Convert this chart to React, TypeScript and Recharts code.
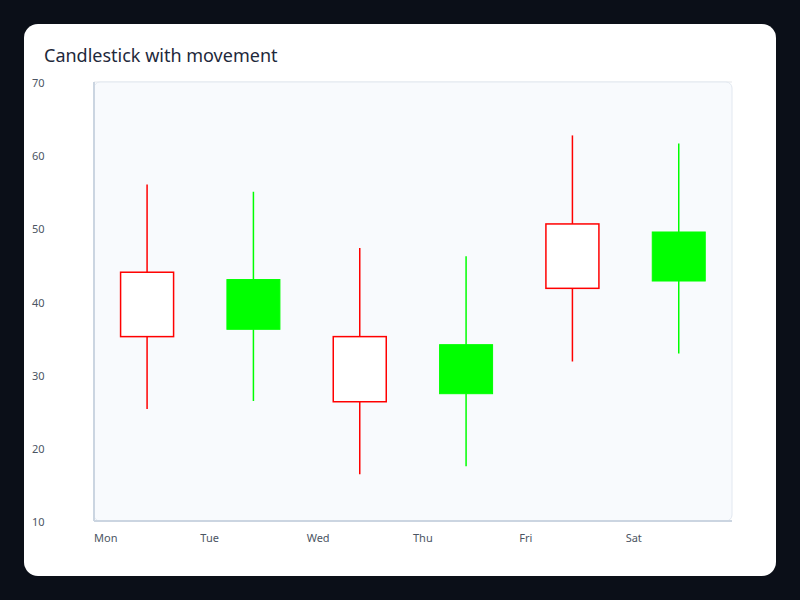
import React from "react";
import { Bar, CartesianGrid, ComposedChart, ReferenceArea, XAxis, YAxis } from "recharts";

const days = ["Mon", "Tue", "Wed", "Thu", "Fri", "Sat"];
const openValues = [44, 36.2, 35.2, 27.4, 50.6, 42.8];
const closeValues = [35.2, 43, 26.3, 34.1, 41.8, 49.5];
const highValues = [56, 55, 47.3, 46.2, 62.7, 61.6];
const lowValues = [25.3, 26.4, 16.4, 17.5, 31.8, 32.9];
const yTicks = [10, 20, 30, 40, 50, 60, 70];

const UP = "#00ff00";
const DOWN = "#ff0000";
const FONT = "'Noto Sans', 'Open Sans', sans-serif";

const data = days.map((day, i) => ({
  day,
  open: openValues[i],
  close: closeValues[i],
  high: highValues[i],
  low: lowValues[i],
}));

// draws wick + body from the [low, high] bar the library gives us
const Candle = (props: any) => {
  const { x, y, width, height, payload } = props;
  if (!payload || height == null) return null;
  const { open, close, high, low } = payload;
  const perUnit = height / (high - low);
  const cx = x + width / 2;
  const bodyTop = y + (high - Math.max(open, close)) * perUnit;
  const bodyBottom = y + (high - Math.min(open, close)) * perUnit;
  const up = close >= open;
  const color = up ? UP : DOWN;
  return (
    <g>
      <line x1={cx} x2={cx} y1={y} y2={bodyTop} stroke={color} strokeWidth={1.5} />
      <line x1={cx} x2={cx} y1={bodyBottom} y2={y + height} stroke={color} strokeWidth={1.5} />
      <rect
        x={x}
        y={bodyTop}
        width={width}
        height={bodyBottom - bodyTop}
        fill={up ? UP : "#ffffff"}
        stroke={color}
        strokeWidth={up ? 1 : 1.5}
      />
    </g>
  );
};

const PlotBackground = (props: any) => {
  const { x, y, width, height } = props;
  return (
    <rect x={x} y={y} width={width} height={height} rx={6} ry={6} fill="#f8fafd" stroke="#e2e8f0" strokeWidth={1} />
  );
};

const YTick = (props: any) => {
  const { y, payload } = props;
  return (
    <text x={8} y={y} dy={5} textAnchor="start" fontSize={11} fill="#4b5563" fontFamily={FONT}>
      {payload.value}
    </text>
  );
};

const XTick = (props: any) => {
  const { x, y, payload } = props;
  const start = x - (payload.offset || 0);
  return (
    <text x={start} y={y} dy={13} textAnchor="start" fontSize={11} fill="#4b5563" fontFamily={FONT}>
      {payload.value}
    </text>
  );
};

export default function App() {
  return (
    <div style={{ position: "absolute", left: 0, top: 0, width: 800, height: 600, background: "#0b0f18" }}>
      <div
        style={{
          position: "absolute",
          left: 24,
          top: 24,
          width: 752,
          height: 552,
          background: "#ffffff",
          borderRadius: 14,
        }}
      >
        <div
          style={{
            position: "absolute",
            left: 20,
            top: 22,
            fontFamily: FONT,
            fontSize: 18,
            lineHeight: "18px",
            color: "#1e293b",
          }}
        >
          Candlestick with movement
        </div>
        <div style={{ position: "absolute", left: 0, top: 48 }}>
          <ComposedChart
            width={752}
            height={500}
            data={data}
            margin={{ top: 10, right: 44, left: 0, bottom: 0 }}
            barCategoryGap="25%"
          >
            <ReferenceArea y1={10} y2={70} shape={<PlotBackground />} ifOverflow="visible" />
            <CartesianGrid vertical={false} stroke="#e5e7eb" />
            <XAxis
              dataKey="day"
              height={51}
              tickLine={false}
              axisLine={{ stroke: "#cbd5e1", strokeWidth: 2 }}
              tick={<XTick />}
              interval={0}
            />
            <YAxis
              width={70}
              domain={[10, 70]}
              ticks={yTicks}
              tickLine={false}
              axisLine={{ stroke: "#cbd5e1", strokeWidth: 2 }}
              tick={<YTick />}
              allowDataOverflow
            />
            <Bar dataKey={(d: any) => [d.low, d.high]} shape={<Candle />} isAnimationActive={false} />
          </ComposedChart>
        </div>
      </div>
    </div>
  );
}
